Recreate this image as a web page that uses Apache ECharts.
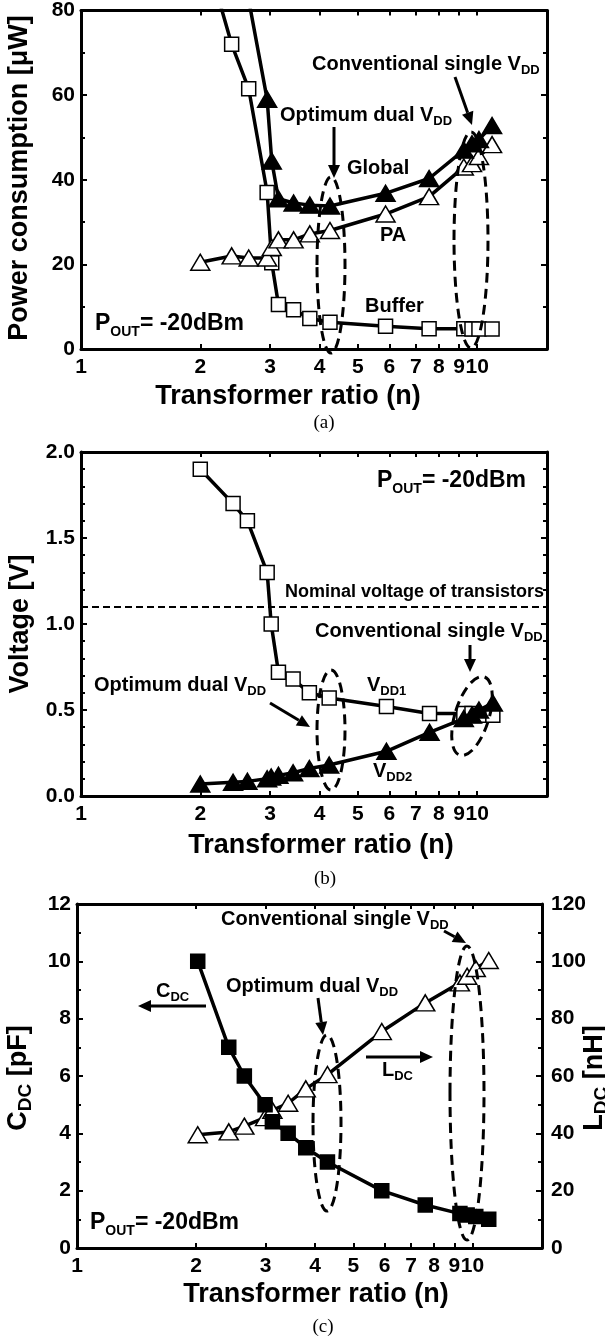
<!DOCTYPE html>
<html><head><meta charset="utf-8">
<script src="https://cdn.jsdelivr.net/npm/echarts@6/dist/echarts.min.js"></script>
<style>html,body{margin:0;padding:0;background:#fff}#c{width:605px;height:1342px}</style>
</head><body><div id="c"></div>
<script>
// ---------------- data ----------------
const xTickValues = [1, 2, 3, 4, 5, 6, 7, 8, 9, 10];
// (a) power consumption [uW]
const aRatio  = [2, 2.4, 2.65, 2.95, 3.03, 3.15, 3.44, 3.78, 4.25, 5.87, 7.56, 9.25, 9.7, 10.1, 10.9];
const aBuffer = [98, 72, 61.5, 37, 20.4, 10.5, 9.3, 7.2, 6.3, 5.4, 4.8, 4.8, 4.7, 4.7, 4.7];
const aPA     = [20.5, 22, 21.5, 21.5, 24, 25.8, 25.8, 27.2, 28, 31.9, 36, 43, 43.8, 45.5, 48.3];
const aGlobal = [118, 94, 82.5, 59, 44.4, 35.5, 34.5, 34, 33.8, 36.8, 40.3, 47, 48.5, 49.5, 52.8];
const aYTicks = [0, 80, 20];
// (b) voltage [V]
const bRatio = [2, 2.42, 2.63, 2.95, 3.02, 3.15, 3.43, 3.77, 4.23, 5.9, 7.58, 9.25, 9.7, 10.1, 10.95];
const bVdd1  = [1.9, 1.7, 1.6, 1.3, 1.0, 0.72, 0.68, 0.6, 0.57, 0.52, 0.48, 0.48, 0.48, 0.47, 0.47];
const bVdd2  = [0.07, 0.08, 0.085, 0.1, 0.11, 0.12, 0.135, 0.16, 0.18, 0.26, 0.37, 0.45, 0.47, 0.5, 0.54];
const bNominal = 1.1;
const bYTicks = [0, 2, 0.5];
// (c) C_DC [pF] and L_DC [nH]
const cRatio = [2.02, 2.42, 2.65, 2.99, 3.12, 3.42, 3.79, 4.3, 5.9, 7.6, 9.3, 9.7, 10.2, 11.0];
const cCdc   = [10, 7, 6, 5, 4.4, 4, 3.5, 3, 2, 1.5, 1.2, 1.15, 1.1, 1.0];
const cLdc   = [39.5, 40.5, 42.5, 45.5, 48, 50.5, 55.5, 60.5, 75.5, 85.5, 92.5, 94.8, 97.5, 100.3];
const cYLeftTicks = [0, 12, 2];
const cYRightTicks = [0, 120, 20];
const xMax = 15;

// ---------------- helpers ----------------
const F = '"Liberation Sans", Arial, Helvetica, sans-serif';
const lg = v => Math.log10(v);
const xTickLog = xTickValues.map(lg);
const pts = (xs, ys) => xs.map((x, i) => [lg(x), ys[i]]);

function xAx(g, pos) {
  const show = pos === 'bottom';
  return {
    type: 'value', gridIndex: g, position: pos, min: 0, max: lg(xMax),
    axisLine: { show: true, onZero: false, lineStyle: { color: '#000', width: 3 } },
    axisTick: { show: true, inside: true, length: 5, customValues: xTickLog, lineStyle: { color: '#000', width: 2 } },
    axisLabel: { show: show, customValues: xTickLog, formatter: v => String(Math.round(Math.pow(10, v))),
      color: '#000', fontSize: 21, fontWeight: 'bold', fontFamily: F, margin: 8 },
    splitLine: { show: false }
  };
}
function yAx(g, pos, t, showLabel, split, fmt) {
  return {
    type: 'value', gridIndex: g, position: pos, min: t[0], max: t[1], interval: t[2],
    axisLine: { show: true, onZero: false, lineStyle: { color: '#000', width: 3 } },
    axisTick: { show: true, inside: true, length: 6, lineStyle: { color: '#000', width: 2 } },
    minorTick: { show: true, splitNumber: split, length: 4, lineStyle: { color: '#000', width: 2 } },
    axisLabel: { show: showLabel, color: '#000', fontSize: 21, fontWeight: 'bold', fontFamily: F,
      margin: pos === 'left' ? 6 : 9, formatter: fmt },
    splitLine: { show: false }, minorSplitLine: { show: false }
  };
}
function line(name, xi, yi, data, symbol, size, filled) {
  return {
    name, type: 'line', xAxisIndex: xi, yAxisIndex: yi, data,
    symbol, symbolSize: size, clip: true,
    lineStyle: { color: '#000', width: 3.5 },
    itemStyle: { color: filled ? '#000' : '#fff', borderColor: '#000', borderWidth: 1.5 },
    emphasis: { disabled: true }
  };
}
const R = (main, sub) => ({
  m: { fontSize: main, fontWeight: 'bold', fontFamily: F, fill: '#000', lineHeight: main + 4, verticalAlign: 'top' },
  s: { fontSize: sub, fontWeight: 'bold', fontFamily: F, fill: '#000', lineHeight: sub + 1, verticalAlign: 'top', padding: [Math.round(main * 0.5), 0, 0, 0] }
});
function rtext(x, y, text, main, sub, extra) {
  return Object.assign({ type: 'text', x, y, z: 100,
    style: { text, rich: R(main, sub), align: 'left', verticalAlign: 'top' } }, extra || {});
}
function ann(x, capCenter, text) { return rtext(x, capCenter - 12, text, 20, 13); }
function pout(x, capCenter) {
  return { type: 'text', x, y: capCenter - 13.5, z: 100, style: {
    text: '{p|P}{q|OUT}{p|= -20dBm}', align: 'left', verticalAlign: 'top',
    rich: {
      p: { fontSize: 23, fontWeight: 'bold', fontFamily: F, fill: '#000', lineHeight: 27, verticalAlign: 'top' },
      q: { fontSize: 14, fontWeight: 'bold', fontFamily: F, fill: '#000', lineHeight: 15, verticalAlign: 'top', padding: [13, 0, 0, 0] }
    } } };
}
function plain(x, y, text, size, weight, family, align) {
  return { type: 'text', x, y, z: 100, style: { text, fontSize: size, fontWeight: weight, fontFamily: family,
    fill: '#000', align: align || 'center', verticalAlign: 'middle' } };
}
function arrow(x1, y1, x2, y2) {
  const a = Math.atan2(y2 - y1, x2 - x1), L = 13, W = 6;
  const bx = x2 - L * Math.cos(a), by = y2 - L * Math.sin(a);
  const px = -Math.sin(a) * W, py = Math.cos(a) * W;
  return [
    { type: 'line', z: 100, shape: { x1, y1, x2: bx, y2: by }, style: { stroke: '#000', lineWidth: 3 } },
    { type: 'polygon', z: 100, shape: { points: [[x2, y2], [bx + px, by + py], [bx - px, by - py]] }, style: { fill: '#000' } }
  ];
}
function ellipse(cx, cy, rx, ry, rot) {
  return { type: 'ellipse', z: 100, x: cx, y: cy, rotation: rot || 0, shape: { cx: 0, cy: 0, rx, ry },
    style: { fill: null, stroke: '#000', lineWidth: 3, lineDash: [10, 6] } };
}
function ytitle(x, y, text, main, sub) {
  const r = {
    m: { fontSize: main, fontWeight: 'bold', fontFamily: F, fill: '#000', lineHeight: main + 4, verticalAlign: 'top' },
    s: { fontSize: sub, fontWeight: 'bold', fontFamily: F, fill: '#000', lineHeight: sub + 1, verticalAlign: 'top', padding: [Math.round(main * 0.42), 0, 0, 0] }
  };
  return { type: 'text', x, y, rotation: Math.PI / 2, z: 100,
    style: { text, rich: r, align: 'center', verticalAlign: 'middle' } };
}

const i1 = v => String(v);
const f1 = v => v.toFixed(1);

const option = {
  animation: false,
  backgroundColor: '#fff',
  grid: [
    { left: 81, right: 58, top: 8, height: 341 },
    { left: 81, right: 58, top: 452, height: 344 },
    { left: 77, right: 63, top: 904, height: 344 }
  ],
  xAxis: [xAx(0, 'bottom'), xAx(0, 'top'), xAx(1, 'bottom'), xAx(1, 'top'), xAx(2, 'bottom'), xAx(2, 'top')],
  yAxis: [
    yAx(0, 'left', aYTicks, true, 2, i1), yAx(0, 'right', aYTicks, false, 2, i1),
    yAx(1, 'left', bYTicks, true, 5, f1), yAx(1, 'right', bYTicks, false, 5, f1),
    yAx(2, 'left', cYLeftTicks, true, 2, i1), yAx(2, 'right', cYRightTicks, true, 2, i1)
  ],
  series: [
    line('Buffer', 0, 0, pts(aRatio, aBuffer), 'rect', 14, false),
    line('PA', 0, 0, pts(aRatio, aPA), 'triangle', [19, 16], false),
    line('Global', 0, 0, pts(aRatio, aGlobal), 'triangle', [19, 16], true),
    Object.assign(line('VDD1', 2, 2, pts(bRatio, bVdd1), 'rect', 14, false), {
      markLine: { silent: true, symbol: 'none', data: [{ yAxis: bNominal }],
        lineStyle: { color: '#000', type: [7, 4], width: 2 }, label: { show: false } }
    }),
    line('VDD2', 2, 2, pts(bRatio, bVdd2), 'triangle', [19, 16], true),
    line('LDC', 4, 5, pts(cRatio, cLdc), 'triangle', [19, 16], false),
    line('CDC', 4, 4, pts(cRatio, cCdc), 'rect', 14, true)
  ],
  graphic: [
    // ---- (a)
    ann(312, 66, '{m|Conventional single V}{s|DD}'),
    ...arrow(455, 77, 472, 125),
    ann(280, 117, '{m|Optimum dual V}{s|DD}'),
    ...arrow(334, 127, 334, 178),
    ann(347, 170, '{m|Global}'),
    ann(380, 237, '{m|PA}'),
    ann(365, 308, '{m|Buffer}'),
    pout(95, 326),
    ellipse(331, 265, 14, 88),
    ellipse(471, 240, 17, 108),
    plain(288, 396.5, 'Transformer ratio (n)', 27, 'bold', F),
    ytitle(22, 178, '{m|Power consumption [μW]}', 27, 18),
    plain(324, 423, '(a)', 19, 'normal', '"Liberation Serif", "Times New Roman", serif'),
    // ---- (b)
    pout(377, 483),
    rtext(285, 583, '{m|Nominal voltage of transistors}', 18, 12),
    ann(315, 633, '{m|Conventional single V}{s|DD}'),
    ...arrow(470, 645, 470, 672),
    ann(367, 687, '{m|V}{s|DD1}'),
    ann(373, 773, '{m|V}{s|DD2}'),
    ann(94, 687, '{m|Optimum dual V}{s|DD}'),
    ...arrow(270, 703, 310, 727),
    ellipse(331, 730, 14, 60),
    ellipse(472, 716, 17, 41, -0.3),
    plain(321, 845.5, 'Transformer ratio (n)', 27, 'bold', F),
    ytitle(23, 624, '{m|Voltage [V]}', 27, 18),
    plain(325, 879, '(b)', 19, 'normal', '"Liberation Serif", "Times New Roman", serif'),
    // ---- (c)
    ann(221, 921, '{m|Conventional single V}{s|DD}'),
    ...arrow(444, 931, 466, 943),
    ann(226, 988, '{m|Optimum dual V}{s|DD}'),
    ...arrow(318, 998, 323, 1035),
    ann(156, 993, '{m|C}{s|DC}'),
    ...arrow(206, 1006, 138, 1006),
    ann(382, 1072, '{m|L}{s|DC}'),
    ...arrow(366, 1057, 433, 1057),
    pout(90, 1225),
    ellipse(327, 1123, 14, 88),
    ellipse(467, 1093, 17, 147),
    plain(316, 1295, 'Transformer ratio (n)', 27, 'bold', F),
    ytitle(21, 1078, '{m|C}{s|DC}{m| [pF]}', 27, 19),
    ytitle(597, 1078, '{m|L}{s|DC}{m| [nH]}', 27, 19),
    plain(323, 1327, '(c)', 19, 'normal', '"Liberation Serif", "Times New Roman", serif')
  ]
};
const chart = echarts.init(document.getElementById('c'));
chart.setOption(option);
</script></body></html>
